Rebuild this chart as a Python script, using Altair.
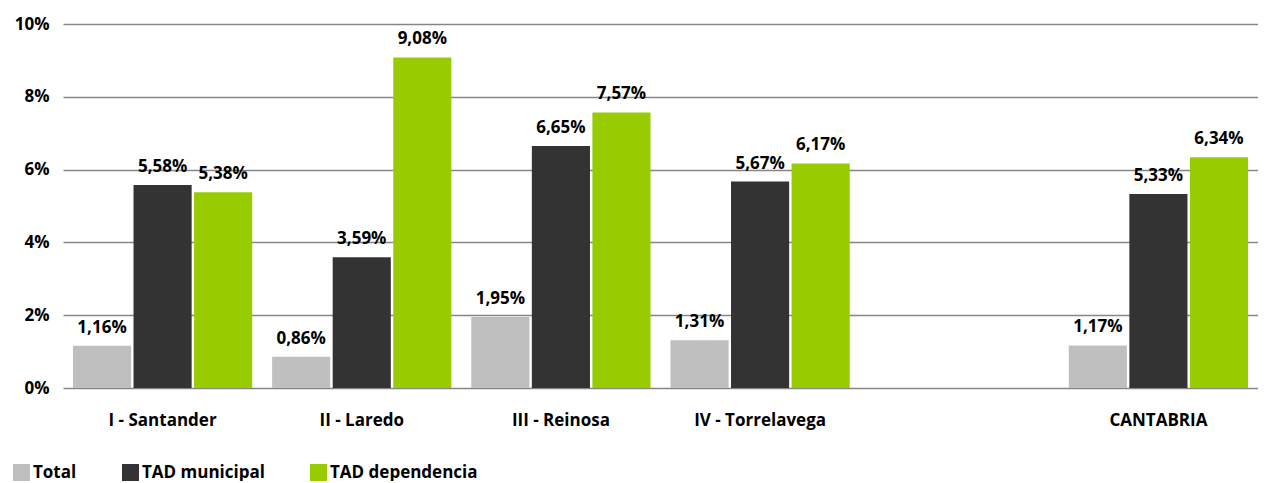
import altair as alt
import pandas as pd

categories = ["I - Santander", "II - Laredo", "III - Reinosa", "IV - Torrelavega", " ", "CANTABRIA"]
series = ["Total", "TAD municipal", "TAD dependencia"]
colors = ["#BFBFBF", "#333333", "#99CC00"]

data_regions = ["I - Santander", "II - Laredo", "III - Reinosa", "IV - Torrelavega", "CANTABRIA"]
total = [1.16, 0.86, 1.95, 1.31, 1.17]
tad_municipal = [5.58, 3.59, 6.65, 5.67, 5.33]
tad_dependencia = [5.38, 9.08, 7.57, 6.17, 6.34]

rows = []
for name, vals in zip(series, [total, tad_municipal, tad_dependencia]):
    for r, v in zip(data_regions, vals):
        rows.append({"region": r, "series": name, "value": v,
                     "label": f"{v:.2f}%".replace(".", ",")})
df = pd.DataFrame(rows)

FONT = "Open Sans"
FS = 17

x = alt.X("region:N", scale=alt.Scale(domain=categories, paddingInner=0.1, paddingOuter=0.05),
          sort=categories,
          axis=alt.Axis(title=None, labelAngle=0, ticks=False, domain=False, grid=False,
                        labelPadding=24, labelFontSize=FS, labelFontWeight="bold",
                        labelColor="#000000", labelFont=FONT))
xo = alt.XOffset("series:N", scale=alt.Scale(domain=series, paddingInner=0.04), sort=series)
y = alt.Y("value:Q", scale=alt.Scale(domain=[0, 10], nice=False),
          axis=alt.Axis(title=None, values=[0, 2, 4, 6, 8, 10], labelExpr="datum.value + '%'",
                        ticks=False, domain=False, grid=True, gridColor="#868686",
                        gridWidth=1.5, labelPadding=14, labelFontSize=FS,
                        labelFontWeight="bold", labelColor="#000000", labelFont=FONT))

bars = alt.Chart(df).mark_bar().encode(
    x=x, xOffset=xo, y=y,
    color=alt.Color("series:N", scale=alt.Scale(domain=series, range=colors), sort=series,
                    legend=alt.Legend(title=None, orient="none", direction="horizontal",
                                      legendX=-50, legendY=440, symbolType="square",
                                      symbolSize=289, symbolStrokeWidth=0, symbolOpacity=1,
                                      labelFontSize=FS, labelFontWeight="bold",
                                      labelColor="#000000", labelFont=FONT,
                                      labelOffset=3, columnPadding=45))
)

text = alt.Chart(df).mark_text(dy=-18, baseline="middle", fontSize=FS, fontWeight="bold",
                               color="#000000", font=FONT).encode(
    x=x, xOffset=xo, y=y, text="label:N"
)

chart = alt.layer(bars, text).properties(
    width=1195, height=364,
    padding={"left": 5, "top": 7, "right": 0, "bottom": 0}
).configure_view(stroke=None)

chart.save("out.html", embed_options={"renderer": "svg", "actions": False})
